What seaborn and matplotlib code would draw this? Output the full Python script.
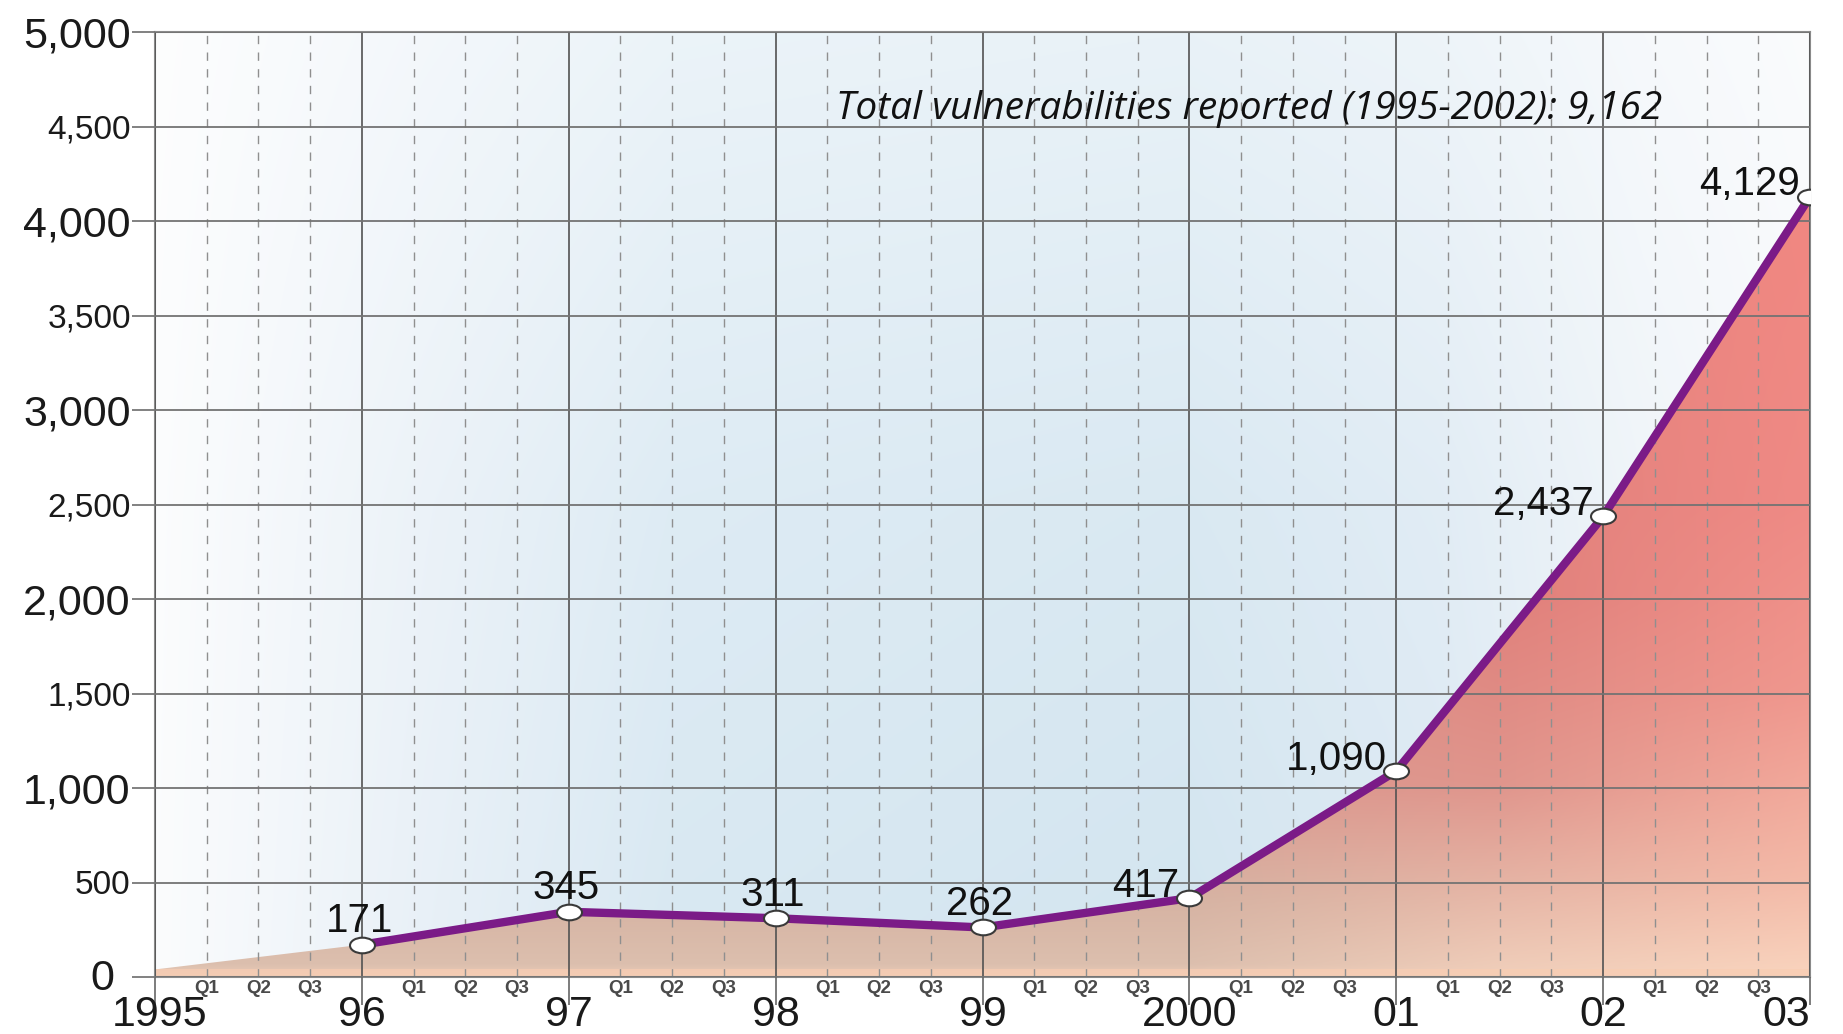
import numpy as np
import matplotlib
matplotlib.use('Agg')
import matplotlib.pyplot as plt
from matplotlib.path import Path
from matplotlib.transforms import Affine2D, ScaledTranslation
import matplotlib.colors as mcolors
import seaborn as sns
import pandas as pd

# ---------------- data ----------------
boundary_years = [1995, 1996, 1997, 1998, 1999, 2000, 2001, 2002, 2003]
boundary_labels = ['1995', '96', '97', '98', '99', '2000', '01', '02', '03']
report_years = [1995, 1996, 1997, 1998, 1999, 2000, 2001, 2002]
vulnerabilities = [171, 345, 311, 262, 417, 1090, 2437, 4129]
quarter_labels = ['Q1', 'Q2', 'Q3']
y_ticks = [0, 500, 1000, 1500, 2000, 2500, 3000, 3500, 4000, 4500, 5000]
total_text = 'Total vulnerabilities reported (1995-2002): 9,162'

# ---------------- style ----------------
sns.set_style('white')
plt.rcParams['font.family'] = ['Liberation Sans', 'DejaVu Sans']

W, H = 1843, 1034
fig = plt.figure(figsize=(W / 100, H / 100), dpi=100)
fig.patch.set_facecolor('white')
ax = fig.add_axes([155 / W, 57 / H, (1810 - 155) / W, (977 - 32) / H])

x0, x1 = boundary_years[0], boundary_years[-1]
y0, y1 = y_ticks[0], y_ticks[-1]
ax.set_xlim(x0, x1)
ax.set_ylim(y0, y1)


def ramp(pos, stops):
    vals = [s[0] for s in stops]
    cols = np.array([mcolors.to_rgb(s[1]) for s in stops])
    return np.stack([np.interp(pos, vals, cols[:, k]) for k in range(3)], axis=-1)


nx, ny = 600, 400
gx = np.linspace(x0, x1, nx)
gy = np.linspace(y0, y1, ny)

# background gradient (white -> light blue -> white)
bg_row = ramp(gx, [(1995, '#fbfcfd'), (1996.3, '#e8f0f7'), (1997.5, '#d8e8f2'),
                   (2000, '#d3e5f0'), (2001.2, '#dce9f3'), (2002.2, '#edf3f8'),
                   (2003, '#f6f8fb')])
vert = np.interp(gy, [0, 2500, 5000], [1.0, 0.85, 0.5])
bg = 1 - (1 - bg_row[None, :, :]) * vert[:, None, None]
ax.imshow(bg, extent=[x0, x1, y0, y1], origin='lower', aspect='auto',
          zorder=0, interpolation='bilinear')

# area fill gradient
left = ramp(gy, [(0, '#ecccb8'), (60, '#dcbfae'), (400, '#d6b3a3'),
                 (1000, '#d99a90'), (5000, '#dc8a85')])
mid = ramp(gy, [(0, '#f0cfbb'), (500, '#e5b3a4'), (1000, '#e0968d'),
                (2000, '#e0807b'), (5000, '#e8847f')])
right = ramp(gy, [(0, '#f9d4be'), (500, '#f4baa8'), (1500, '#f0978e'),
                  (2500, '#ef8a85'), (5000, '#f2867f')])
wl = np.interp(gx, [1995, 2000, 2001.5], [1, 1, 0])
wr = np.interp(gx, [2001.5, 2003], [0, 1])
wm = 1 - wl - wr
fill_img = (wl[None, :, None] * left[:, None, :] + wm[None, :, None] * mid[:, None, :]
            + wr[None, :, None] * right[:, None, :])

x_pts = [y + 1 for y in report_years]
df = pd.DataFrame({'x': x_pts, 'count': vulnerabilities})

poly = ax.fill_between([x0] + x_pts, [y0 + 40] + vulnerabilities, y0,
                       facecolor='none', edgecolor='none', zorder=1)
im = ax.imshow(fill_img, extent=[x0, x1, y0, y1], origin='lower', aspect='auto',
               zorder=1, interpolation='bilinear')
im.set_clip_path(poly.get_paths()[0], transform=ax.transData)

# light peach strip along the base
ax.axhspan(y0, 40, color='#f8cdb3', alpha=0.75, zorder=1.5, lw=0)

# ---------------- grid ----------------
ax.set_axisbelow(False)
ax.set_yticks(y_ticks)
ax.set_yticklabels([f'{v:,}' for v in y_ticks])
ax.set_xticks(boundary_years)
ax.set_xticklabels(boundary_labels)
q_pos = [y + q / 4 for y in boundary_years[:-1] for q in range(1, 4)]
ax.set_xticks(q_pos, minor=True)
ax.set_xticklabels(quarter_labels * (len(boundary_years) - 1), minor=True)

ax.grid(True, which='major', axis='y', color='#737373', lw=1.3)
ax.grid(True, which='major', axis='x', color='#525252', lw=1.2)
ax.grid(True, which='minor', axis='x', color='#8f8f8f', lw=1.0,
        linestyle=(0, (6, 6)))

for s in ax.spines.values():
    s.set_color('#8a8a8a')
    s.set_linewidth(1.5)

ax.tick_params(axis='y', which='major', left=True, length=16.5, width=1.3,
               color='#777777', pad=1, labelcolor='#1a1a1a')
ylabs = ax.get_yticklabels()
for lab, v in zip(ylabs, y_ticks):
    lab.set_fontsize(31 if v % 1000 == 0 else 24)
# zero label sits a little further left, as in the original
ylabs[0].set_transform(ylabs[0].get_transform()
                       + ScaledTranslation(-0.16, 0.03, fig.dpi_scale_trans))

ax.tick_params(axis='x', which='major', bottom=True, length=20, width=1.2,
               color='#666666', pad=-7, labelsize=31, labelcolor='#1a1a1a')
ax.tick_params(axis='x', which='minor', bottom=True, length=0, pad=2,
               labelcolor='#4a4a4a')
for lab in ax.get_xticklabels(minor=True):
    lab.set_fontweight('bold')
    lab.set_fontsize(13.5)
xt = ax.get_xticklabels()
xt[-1].set_horizontalalignment('right')
xt[0].set_transform(xt[0].get_transform()
                    + ScaledTranslation(0.05, 0, fig.dpi_scale_trans))

# ---------------- line with markers ----------------
circ = Path.unit_circle()
ellipse = Path(Affine2D().scale(1.6, 1.0).transform(circ.vertices), circ.codes)

sns.lineplot(data=df, x='x', y='count', ax=ax, color='#7b1b87', linewidth=6,
             marker=ellipse, markersize=18, markerfacecolor='white',
             markeredgecolor='#3a3a3a', markeredgewidth=1.5, zorder=4,
             solid_joinstyle='round')
ax.set_xlabel('')
ax.set_ylabel('')

# ---------------- value labels ----------------
for i, (xv, yv) in enumerate(zip(x_pts, vulnerabilities)):
    if i < 4:
        ax.annotate(f'{yv:,}', (xv, yv), xytext=(-2, 9), textcoords='offset points',
                    ha='center', va='baseline', fontsize=29, color='#111111', zorder=5)
    else:
        ax.annotate(f'{yv:,}', (xv, yv), xytext=(-7, 1), textcoords='offset points',
                    ha='right', va='baseline', fontsize=29, color='#111111', zorder=5)

ax.text(2000.29, 4590, total_text, ha='center', va='center', fontsize=28,
        style='italic', family=['Open Sans', 'DejaVu Sans'], color='#111111', zorder=5)

fig.savefig('out.png', dpi=100)
